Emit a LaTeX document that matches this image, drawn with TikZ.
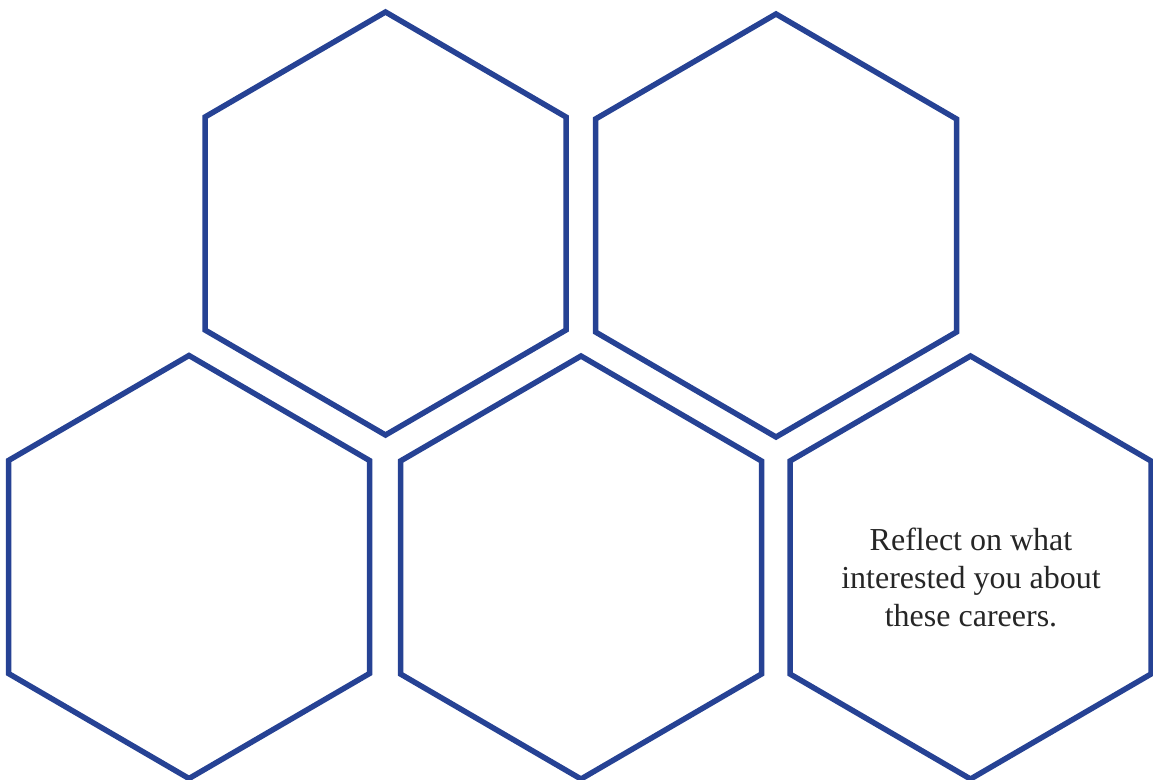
\documentclass[tikz,border=0pt]{standalone}
\usepackage{fontspec}
\setmainfont{Liberation Serif}
\definecolor{hexblue}{RGB}{38,66,148}
\newcommand{\myhex}[2]{%
  \draw[hexline] (#1,#2-211.5) -- (#1+180.5,#2-106.5) -- (#1+180.5,#2+106.5) -- (#1,#2+211.5)
    -- (#1-180.5,#2+106.5) -- (#1-180.5,#2-106.5) -- cycle;}
\begin{document}
\begin{tikzpicture}[x=1pt,y=-1pt,
  hexline/.style={draw=hexblue,line width=5.5pt,line join=miter},
  hextext/.style={align=center,font=\fontsize{32}{38}\selectfont,text=black!85}]
\useasboundingbox (0,0) rectangle (1153,779);
\myhex{385.5}{223.5}
\myhex{776}{225.5}
\myhex{189}{567}
\myhex{581}{567.5}
\myhex{970.5}{567.5}
\node[hextext] (t5) at (971,577) {Reflect on what\\interested you about\\these careers.};
\end{tikzpicture}
\end{document}
